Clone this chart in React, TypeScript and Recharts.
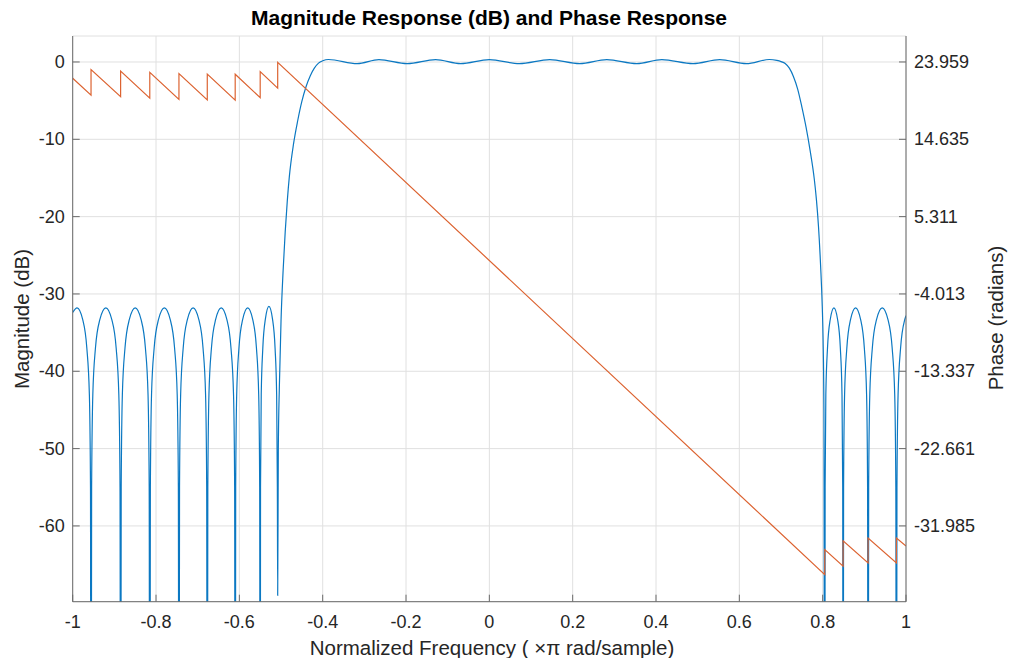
import React from "react";
import { LineChart, Line, XAxis, YAxis, CartesianGrid } from "recharts";

// frequency in units of pi rad/sample, magnitude in dB (nulls pushed below the axis)
const MAG_STOP_LEFT: [number, number][] = [
  [-1, -32.4], [-0.9895, -31.8], [-0.9761, -33.3], [-0.9661, -37], [-0.96, -43], [-0.9573, -55], [-0.956, -120],
  [-0.9546, -55], [-0.9517, -43], [-0.9454, -37], [-0.9347, -33.3], [-0.9205, -31.8], [-0.9063, -33.3], [-0.8957, -37], [-0.8893, -43], [-0.8864, -55], [-0.885, -120],
  [-0.8836, -55], [-0.8808, -43], [-0.8745, -37], [-0.864, -33.3], [-0.85, -31.8], [-0.836, -33.3], [-0.8255, -37], [-0.8192, -43], [-0.8164, -55], [-0.815, -120],
  [-0.8136, -55], [-0.8108, -43], [-0.8045, -37], [-0.794, -33.3], [-0.78, -31.8], [-0.766, -33.3], [-0.7555, -37], [-0.7492, -43], [-0.7464, -55], [-0.745, -120],
  [-0.7436, -55], [-0.7409, -43], [-0.7348, -37], [-0.7246, -33.3], [-0.711, -31.8], [-0.6974, -33.3], [-0.6872, -37], [-0.6811, -43], [-0.6784, -55], [-0.677, -120],
  [-0.6757, -55], [-0.673, -43], [-0.667, -37], [-0.6569, -33.3], [-0.6435, -31.8], [-0.6301, -33.3], [-0.6201, -37], [-0.614, -43], [-0.6113, -55], [-0.61, -120],
  [-0.6088, -55], [-0.6064, -43], [-0.601, -37], [-0.592, -33.3], [-0.58, -31.8], [-0.568, -33.3], [-0.559, -37], [-0.5536, -43], [-0.5512, -55], [-0.55, -120],
  [-0.5492, -55], [-0.5475, -43], [-0.5437, -37], [-0.5374, -33.2], [-0.529, -31.6], [-0.5206, -33.2], [-0.5143, -37], [-0.5105, -43], [-0.5088, -55], [-0.508, -69],
];

const MAG_PASS: [number, number][] = [
  [-0.5065, -50], [-0.504, -42], [-0.5, -33.5], [-0.495, -27], [-0.49, -22], [-0.485, -18], [-0.48, -14.8],
  [-0.47, -10.6], [-0.46, -7.6], [-0.45, -5.1], [-0.44, -3.2], [-0.43, -1.8], [-0.42, -0.8], [-0.41, -0.15], [-0.4, 0.15],
  [-0.386, 0.32], [-0.317, -0.22], [-0.265, 0.3], [-0.197, -0.22], [-0.129, 0.3], [-0.069, -0.22], [0.0, 0.3], [0.072, -0.22],
  [0.145, 0.3], [0.217, -0.22], [0.282, 0.3], [0.354, -0.22], [0.414, 0.3], [0.489, -0.22], [0.553, 0.3], [0.617, -0.22], [0.672, 0.32],
  [0.69, 0.2], [0.7, 0.05], [0.71, -0.2], [0.72, -0.8], [0.73, -1.9], [0.74, -3.5], [0.75, -5.8], [0.76, -8.4], [0.77, -11.5],
  [0.78, -15.2], [0.785, -17.8], [0.79, -21.3], [0.795, -26.3], [0.799, -31.6], [0.801, -35.9], [0.803, -45], [0.805, -120],
];

const MAG_STOP_RIGHT: [number, number][] = [
  [0.8059, -55], [0.8076, -43], [0.8116, -37], [0.8182, -33.3], [0.827, -31.8], [0.8358, -33.3], [0.8424, -37], [0.8464, -43], [0.8481, -55], [0.849, -120],
  [0.8502, -55], [0.8526, -43], [0.858, -37], [0.867, -33.3], [0.879, -31.8], [0.891, -33.3], [0.9, -37], [0.9054, -43], [0.9078, -55], [0.909, -120],
  [0.9104, -55], [0.9131, -43], [0.9192, -37], [0.9294, -33.3], [0.943, -31.8], [0.9566, -33.3], [0.9668, -37], [0.9729, -43], [0.9756, -55], [0.977, -120],
  [0.9783, -55], [0.981, -43], [0.987, -37], [0.9971, -33.3], [1.0, -32.8],
];

// phase in radians, jumps of pi at every stopband null
const PHASE: [number, number][] = [
  [-1, 22.0], [-0.956, 19.95], [-0.956, 23.05], [-0.885, 19.78], [-0.885, 22.85], [-0.815, 19.59], [-0.815, 22.7],
  [-0.745, 19.45], [-0.745, 22.55], [-0.677, 19.38], [-0.677, 22.5], [-0.61, 19.36], [-0.61, 22.48], [-0.55, 19.66],
  [-0.55, 22.79], [-0.508, 20.8], [-0.508, 23.92], [0.805, -37.86], [0.805, -34.85], [0.849, -36.84], [0.849, -33.78],
  [0.909, -36.46], [0.909, -33.45], [0.977, -36.45], [0.977, -33.45], [1.0, -34.4],
];

const FREQ_TICKS = [-1, -0.8, -0.6, -0.4, -0.2, 0, 0.2, 0.4, 0.6, 0.8, 1];
const DB_TICKS = [-60, -50, -40, -30, -20, -10, 0];
const PHASE_TICKS = [-31.985, -22.661, -13.337, -4.013, 5.311, 14.635, 23.959];

const DB_DOMAIN: [number, number] = [-69.8, 3.36];
const PHASE_DOMAIN: [number, number] = [-41.123, 27.092];

const magData = [...MAG_STOP_LEFT, ...MAG_PASS, ...MAG_STOP_RIGHT].map(([f, v]) => ({ f, mag: v }));
const phaseData = PHASE.map(([f, v]) => ({ f, phase: v }));

const AXIS = "#6b6b6b";
const TXT = "#262626";
const FONT = "'Liberation Sans', Arial, Helvetica, sans-serif";
const TICK_LEN = 7;

function BottomTick(props: any) {
  const { x, y, payload } = props;
  return (
    <g>
      <line x1={x} y1={y} x2={x} y2={y - TICK_LEN} stroke={AXIS} />
      <text x={x} y={y + 26} textAnchor="middle" fontSize={18} fill={TXT} fontFamily={FONT}>
        {String(payload.value)}
      </text>
    </g>
  );
}

function TopTick(props: any) {
  const { x, y } = props;
  return <line x1={x} y1={y} x2={x} y2={y + TICK_LEN} stroke={AXIS} />;
}

function LeftTick(props: any) {
  const { x, y, payload } = props;
  return (
    <g>
      <line x1={x} y1={y} x2={x + TICK_LEN} y2={y} stroke={AXIS} />
      <text x={x - 8} y={y + 6} textAnchor="end" fontSize={18} fill={TXT} fontFamily={FONT}>
        {String(payload.value)}
      </text>
    </g>
  );
}

function RightTick(props: any) {
  const { x, y, payload } = props;
  return (
    <g>
      <line x1={x} y1={y} x2={x - TICK_LEN} y2={y} stroke={AXIS} />
      <text x={x + 8} y={y + 6} textAnchor="start" fontSize={18} fill={TXT} fontFamily={FONT}>
        {payload.value.toFixed(3)}
      </text>
    </g>
  );
}

export default function App() {
  return (
    <div style={{ position: "absolute", left: 0, top: 0, width: 1012, height: 658, background: "#fff" }}>
      <LineChart width={1012} height={658} margin={{ top: 36, right: 26, bottom: 26.3, left: 12.7 }}>
        <CartesianGrid yAxisId="left" stroke="#e0e0e0" />
        <XAxis
          type="number"
          dataKey="f"
          domain={[-1, 1]}
          ticks={FREQ_TICKS}
          interval={0}
          allowDataOverflow
          height={30}
          tickSize={0}
          tickMargin={0}
          tickLine={false}
          tick={<BottomTick />}
          axisLine={{ stroke: AXIS }}
        />
        <XAxis
          xAxisId="top"
          orientation="top"
          type="number"
          domain={[-1, 1]}
          ticks={FREQ_TICKS}
          interval={0}
          allowDataOverflow
          height={0}
          tickSize={0}
          tickMargin={0}
          tickLine={false}
          tick={<TopTick />}
          axisLine={{ stroke: AXIS }}
        />
        <YAxis
          yAxisId="left"
          type="number"
          domain={DB_DOMAIN}
          ticks={DB_TICKS}
          interval={0}
          allowDataOverflow
          width={60}
          tickSize={0}
          tickMargin={0}
          tickLine={false}
          tick={<LeftTick />}
          axisLine={{ stroke: AXIS }}
        />
        <YAxis
          yAxisId="right"
          orientation="right"
          type="number"
          domain={PHASE_DOMAIN}
          ticks={PHASE_TICKS}
          interval={0}
          allowDataOverflow
          width={80}
          tickSize={0}
          tickMargin={0}
          tickLine={false}
          tick={<RightTick />}
          axisLine={{ stroke: AXIS }}
        />
        <Line
          yAxisId="left"
          data={magData}
          dataKey="mag"
          type="monotone"
          stroke="#0b78c2"
          strokeWidth={1.2}
          dot={false}
          isAnimationActive={false}
        />
        <Line
          yAxisId="right"
          data={phaseData}
          dataKey="phase"
          type="linear"
          stroke="#dc6331"
          strokeWidth={1.2}
          dot={false}
          isAnimationActive={false}
        />
      </LineChart>
      <svg width={1012} height={658} style={{ position: "absolute", left: 0, top: 0, pointerEvents: "none" }}>
        <text x={489} y={25} textAnchor="middle" fontSize={21} fontWeight="bold" fill="#000" fontFamily={FONT}>
          Magnitude Response (dB) and Phase Response
        </text>
        <text x={492} y={655} textAnchor="middle" fontSize={20.5} fill={TXT} fontFamily={FONT}>
          Normalized Frequency ( {"\u00D7\u03C0"} rad/sample)
        </text>
        <text transform="translate(29,319) rotate(-90)" textAnchor="middle" fontSize={20.5} fill={TXT} fontFamily={FONT}>
          Magnitude (dB)
        </text>
        <text transform="translate(1003,318) rotate(-90)" textAnchor="middle" fontSize={20.5} fill={TXT} fontFamily={FONT}>
          Phase (radians)
        </text>
      </svg>
    </div>
  );
}
